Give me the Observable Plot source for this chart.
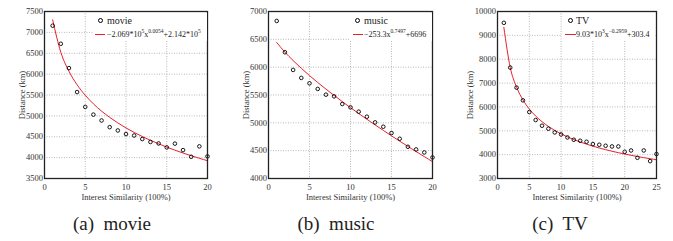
<!DOCTYPE html>
<html><head><meta charset="utf-8">
<script src="https://cdn.jsdelivr.net/npm/d3@7"></script>
<script src="https://cdn.jsdelivr.net/npm/@observablehq/plot@0.6"></script>
<style>
body{margin:0;background:#fff;font-family:"Liberation Serif",serif;}
#row{display:flex;width:673px;}
.panel{position:relative;width:224px;}
.panel svg, .panel svg text{font-family:"Liberation Serif",serif !important;}
.cap{text-align:center;font-size:19px;white-space:pre;margin-top:10px;line-height:24px;color:#222;font-family:"Liberation Serif",serif;}
.leg{position:absolute;background:#fff;height:28px;top:13px;}
.lab{position:absolute;font-size:10px;line-height:10px;color:#222;white-space:nowrap;}
.frm{position:absolute;font-size:8px;line-height:8px;color:#222;white-space:nowrap;}
.frm sup{font-size:5.5px;line-height:0;vertical-align:4px;}
.mk{position:absolute;width:3px;height:3px;border:1px solid #000;border-radius:50%;}
.rl{position:absolute;height:1px;background:#e8202a;}
</style></head><body>
<div id="row"></div>
<script>
// ---- data ----
const xMovie = [1,2,3,4,5,6,7,8,9,10,11,12,13,14,15,16,17,18,19,20];
const movie = [7160,6727,6144,5570,5215,5030,4890,4730,4650,4565,4530,4445,4375,4340,4245,4335,4180,4020,4270,4030];
const fitMovie = [7300,6524,6069,5745,5494,5288,5114,4964,4831,4711,4604,4505,4415,4331,4252,4179,4110,4046,3984,3926];

const xMusic = [1,2,3,4,5,6,7,8,9,10,11,12,13,14,15,16,17,18,19,20];
const music = [6830,6268,5950,5807,5710,5609,5506,5476,5338,5278,5200,5110,5008,4930,4817,4714,4570,4522,4468,4378];
const fitMusic = [6443,6270,6119,5980,5849,5725,5607,5492,5381,5273,5167,5064,4963,4864,4767,4671,4577,4484,4393,4303];

const xTV = [1,2,3,4,5,6,7,8,9,10,11,12,13,14,15,16,17,18,19,20,21,22,23,24,25];
const tv = [9525,7648,6808,6275,5785,5451,5212,5086,4931,4847,4721,4624,4582,4540,4443,4414,4372,4343,4343,4120,4175,3868,4175,3729,4024];
const fitTV = [9333,7659,6827,6295,5912,5618,5381,5184,5017,4872,4745,4632,4531,4439,4356,4279,4208,4143,4082,4025,3972,3921,3874,3829,3787];

const ticksX20 = [0,5,10,15,20];
const ticksX25 = [0,5,10,15,20,25];
const ticksYMovie = [3500,4000,4500,5000,5500,6000,6500,7000,7500];
const ticksYMusic = [4000,4500,5000,5500,6000,6500,7000];
const ticksYTV = [3000,4000,5000,6000,7000,8000,9000,10000];

const seriesNames = ["movie","music","TV"];
const fitLabels = [
  "\u22122.069*10<sup>5</sup>x<sup>0.0054</sup>+2.142*10<sup>5</sup>",
  "\u2212253.3x<sup>0.7497</sup>+6696",
  "9.03*10<sup>3</sup>x<sup>\u22120.2959</sup>+303.4"
];
const captions = ["(a)  movie","(b)  music","(c)  TV"];

const panels = [
  {x:xMovie, y:movie, fit:fitMovie, xd:[0,20], yd:[3500,7500], tx:ticksX20, ty:ticksYMovie, ml:44, mr:17,
   leg:{left:94, width:113, mk:6.7, lab:13, rl:[1,11], frm:13}},
  {x:xMusic, y:music, fit:fitMusic, xd:[0,20], yd:[4000,7000], tx:ticksX20, ty:ticksYMusic, ml:44, mr:16,
   leg:{left:126, width:82, mk:7.7, lab:14, rl:[2.7,12.7], frm:14}},
  {x:xTV, y:tv, fit:fitTV, xd:[0,25], yd:[3000,10000], tx:ticksX25, ty:ticksYTV, ml:49, mr:16,
   leg:{left:114, width:93, mk:8.3, lab:14, rl:[2.7,13.7], frm:14}}
];

const row = document.getElementById("row");
panels.forEach((p, i) => {
  const pts = p.x.map((v, j) => ({x: v, y: p.y[j], f: p.fit[j]}));
  const chart = Plot.plot({
    width: 224, height: 202,
    marginTop: 11, marginBottom: 24, marginLeft: p.ml, marginRight: p.mr,
    style: {fontFamily: "'Liberation Serif', serif", fontSize: "8.5px", color: "#333", background: "white", overflow: "visible"},
    x: {domain: p.xd},
    y: {domain: p.yd},
    marks: [
      Plot.gridX(p.tx, {stroke: "#999", strokeOpacity: 1, strokeDasharray: "1,1.5", strokeWidth: 0.7}),
      Plot.gridY(p.ty, {stroke: "#999", strokeOpacity: 1, strokeDasharray: "1,1.5", strokeWidth: 0.7}),
      Plot.line(pts, {x: "x", y: "f", stroke: "#e8202a", strokeWidth: 1, curve: "monotone-x"}),
      Plot.dot(pts, {x: "x", y: "y", r: 1.8, stroke: "#000", strokeWidth: 0.9, fill: "none"}),
      Plot.frame({stroke: "#222", strokeWidth: 1.3}),
      Plot.axisX(p.tx, {tickSize: 0, tickPadding: 5, tickFormat: d => String(d),
        label: "Interest Similarity (100%)", labelAnchor: "center", labelArrow: "none", labelOffset: 21}),
      Plot.axisY(p.ty, {tickSize: 0, tickPadding: 1.5, tickFormat: d => String(d),
        label: "Distance (km)", labelAnchor: "center", labelArrow: "none", labelOffset: p.ml - 18})
    ]
  });
  const wrap = document.createElement("div");
  wrap.className = "panel";
  wrap.appendChild(chart);
  const L = p.leg;
  const leg = document.createElement("div");
  leg.className = "leg";
  leg.style.left = L.left + "px";
  leg.style.width = L.width + "px";
  leg.innerHTML =
    `<div class="mk" style="left:${L.mk - 2.5}px;top:5.2px"></div>` +
    `<div class="lab" style="left:${L.lab}px;top:2.5px">${seriesNames[i]}</div>` +
    `<div class="rl" style="left:${L.rl[0]}px;width:${L.rl[1]-L.rl[0]}px;top:20.5px"></div>` +
    `<div class="frm" style="left:${L.frm}px;top:18px">${fitLabels[i]}</div>`;
  wrap.appendChild(leg);
  const cap = document.createElement("div");
  cap.className = "cap";
  cap.textContent = captions[i];
  wrap.appendChild(cap);
  row.appendChild(wrap);
});
</script>
</body></html>
